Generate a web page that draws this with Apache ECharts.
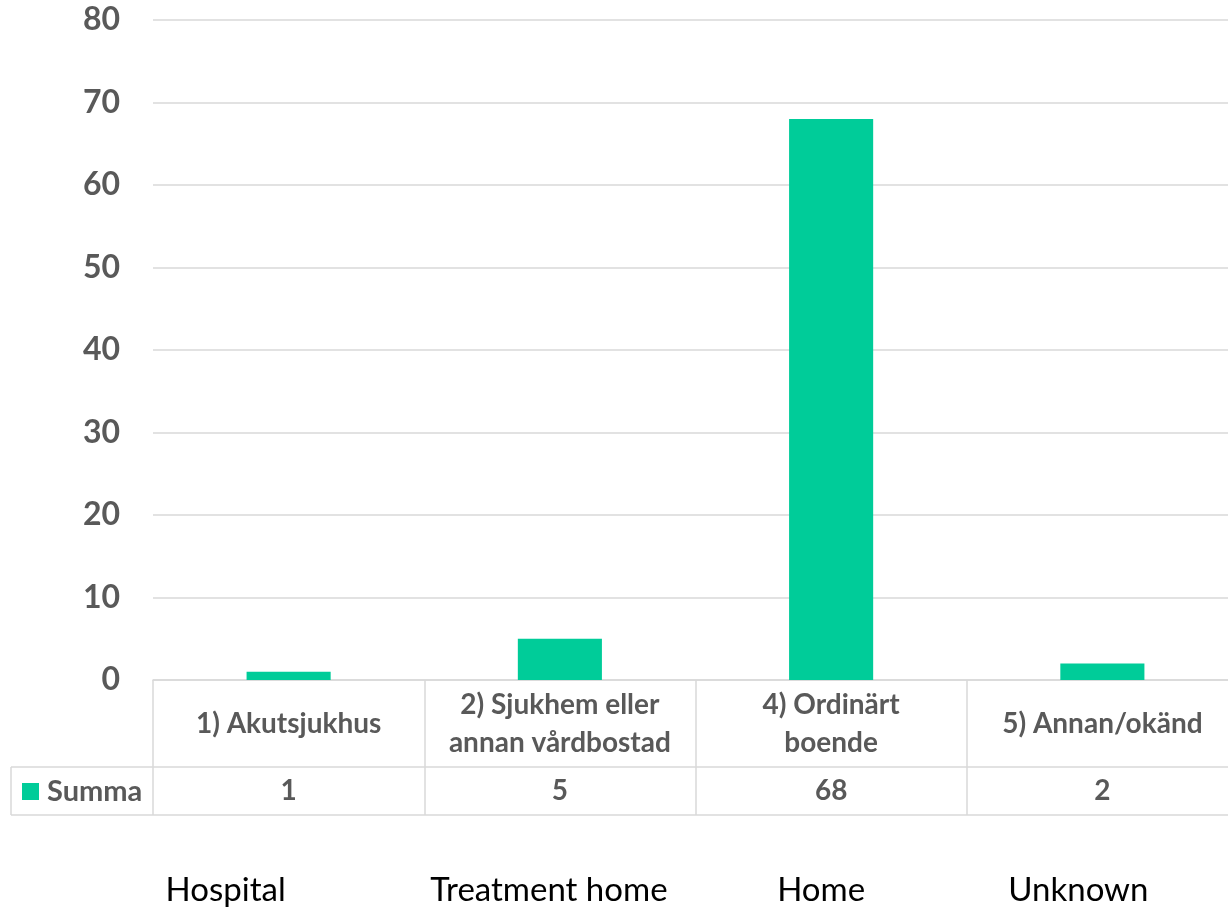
<!DOCTYPE html>
<html>
<head>
<meta charset="utf-8">
<script src="https://cdn.jsdelivr.net/npm/echarts@6/dist/echarts.min.js"></script>
<style>
  html, body { margin: 0; padding: 0; background: #fff; }
  #chart { width: 1228px; height: 908px; }
</style>
</head>
<body>
<div id="chart"></div>
<script>
// Place of death categories (Swedish) with English translations underneath
const categories = ['1) Akutsjukhus', '2) Sjukhem eller\nannan vårdbostad', '4) Ordinärt\nboende', '5) Annan/okänd'];
const englishLabels = ['Hospital', 'Treatment home', 'Home', 'Unknown'];
const summa = [1, 5, 68, 2];
const yTicks = { min: 0, max: 80, interval: 10 };

const GRAY = '#595959';
const LINE = '#d9d9d9';
const BAR = '#00cc99';
const FONT = 'Lato, "Open Sans", sans-serif';

const chart = echarts.init(document.getElementById('chart'));

// Horizontal offsets of the English captions relative to each column centre
const captionShift = [-63, -11, -10, -24];

function buildGraphics() {
  const g = [];
  const rowTop = 767, rowBottom = 815, left = 11, right = 1228;
  // data table: row separators and outer left border of the legend cell
  g.push({ type: 'line', shape: { x1: left, y1: rowTop, x2: right, y2: rowTop }, style: { stroke: LINE, lineWidth: 1.5 } });
  g.push({ type: 'line', shape: { x1: left, y1: rowBottom, x2: right, y2: rowBottom }, style: { stroke: LINE, lineWidth: 1.5 } });
  g.push({ type: 'line', shape: { x1: left, y1: rowTop, x2: left, y2: rowBottom }, style: { stroke: LINE, lineWidth: 1.5 } });
  // English captions below the table
  englishLabels.forEach((t, i) => {
    const cx = chart.convertToPixel({ xAxisIndex: 0 }, categories[i]);
    g.push({
      type: 'text',
      x: cx + captionShift[i],
      y: 890,
      style: { text: t, font: '33px ' + FONT, fill: '#000', align: 'center', verticalAlign: 'middle' }
    });
  });
  return g;
}

chart.setOption({
  animation: false,
  grid: { left: 153, width: 1085, top: 20, bottom: 228, containLabel: false, outerBoundsMode: 'none' },
  legend: {
    data: ['Summa'],
    left: 22,
    top: 777,
    padding: 0,
    icon: 'rect',
    itemWidth: 17,
    itemHeight: 17,
    itemGap: 8,
    textStyle: { color: GRAY, fontSize: 29, fontWeight: 'bold', fontFamily: FONT, padding: [0, 0, 0, 3] }
  },
  xAxis: [
    {
      type: 'category',
      data: categories,
      position: 'bottom',
      axisLine: { show: true, lineStyle: { color: LINE, width: 1.5 } },
      axisTick: { show: true, alignWithLabel: false, interval: 0, length: 135, lineStyle: { color: LINE, width: 1.5 } },
      axisLabel: {
        interval: 0,
        margin: 44,
        verticalAlign: 'middle',
        lineHeight: 38,
        color: GRAY,
        fontSize: 28,
        fontWeight: 'bold',
        fontFamily: FONT
      }
    },
    {
      type: 'category',
      data: summa.map(String),
      position: 'bottom',
      offset: 0,
      axisLine: { show: false },
      axisTick: { show: false },
      axisLabel: {
        interval: 0,
        margin: 111,
        verticalAlign: 'middle',
        color: GRAY,
        fontSize: 28,
        fontWeight: 'bold',
        fontFamily: FONT
      }
    }
  ],
  yAxis: {
    type: 'value',
    min: yTicks.min,
    max: yTicks.max,
    interval: yTicks.interval,
    axisLine: { show: false },
    axisTick: { show: false },
    splitLine: { lineStyle: { color: LINE, width: 1.5 } },
    axisLabel: { margin: 33, color: GRAY, fontSize: 32, fontWeight: 'bold', fontFamily: FONT }
  },
  series: [
    {
      name: 'Summa',
      type: 'bar',
      xAxisIndex: 0,
      data: summa,
      barWidth: '31%',
      itemStyle: { color: BAR }
    }
  ]
});

chart.setOption({ graphic: buildGraphics() });
</script>
</body>
</html>
